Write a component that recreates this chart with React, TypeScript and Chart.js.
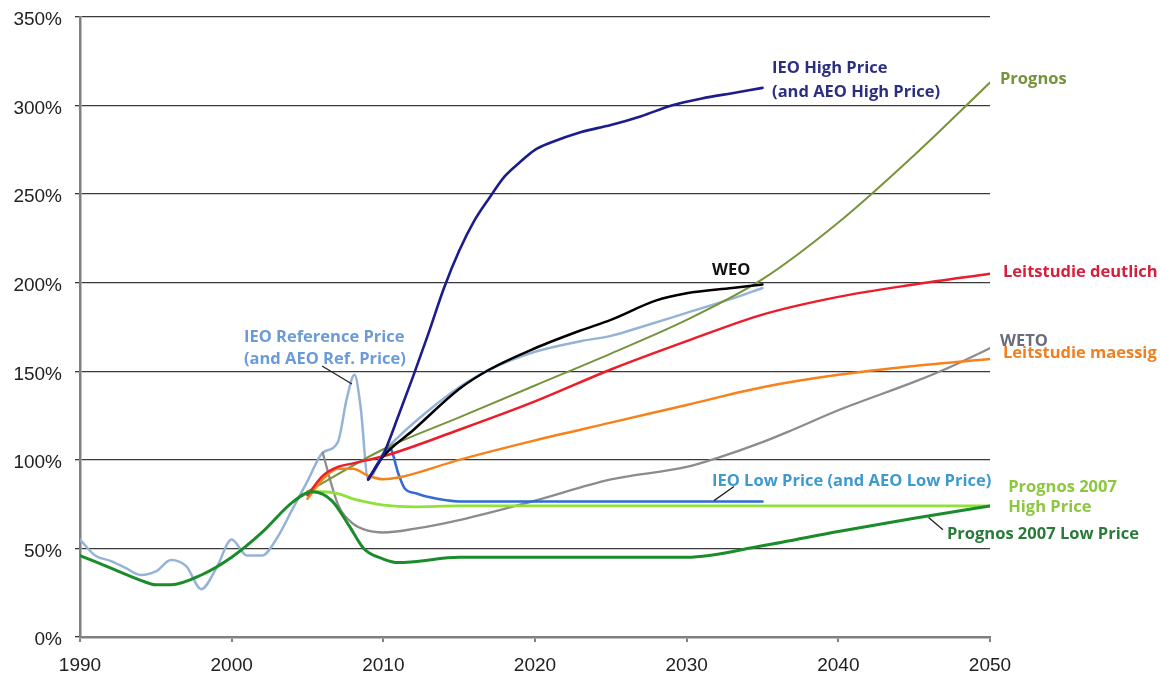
import React, { useEffect, useRef } from "react";
import { Chart, registerables } from "chart.js";
Chart.register(...registerables);

// ---- axes ----
const xMin = 1990;
const xMax = 2050;
const xStep = 10;
const yMin = 0;
const yMax = 350;
const yStep = 50;

// ---- series (year, percent) ----
const ieoRefYears = [1990, 1991, 1992, 1993, 1994, 1995, 1996, 1997, 1998, 1999, 2000, 2001, 2002, 2003, 2004, 2005, 2006, 2007, 2007.6, 2008.1, 2008.5, 2009, 2010, 2011, 2013, 2015, 2017, 2020, 2023, 2025, 2027, 2030, 2033, 2035];
const ieoRefValues = [55, 46, 43, 39, 35, 37, 43.5, 40, 27, 39, 55, 46, 46, 56, 72, 88, 104, 110, 135, 148, 130, 89, 104, 113, 128, 141, 151, 161, 167, 170, 175, 183, 191, 197];

const ieoHighYears = [2009, 2010, 2011, 2012, 2013, 2014, 2015, 2016, 2017, 2018, 2019, 2020, 2021, 2023, 2025, 2027, 2029, 2031, 2033, 2035];
const ieoHighValues = [89, 103, 125, 148, 172, 197, 218, 235, 248, 260, 268, 275, 279, 285, 289, 294, 300, 304, 307, 310];

const weoYears = [2009, 2010, 2012, 2015, 2017, 2020, 2023, 2025, 2028, 2030, 2033, 2035];
const weoValues = [89, 102, 117, 140, 151, 163, 173, 179, 190, 194, 197, 199];

const prognosYears = [2005, 2010, 2015, 2020, 2025, 2030, 2035, 2040, 2045, 2050];
const prognosValues = [82, 106, 124, 142, 160, 179, 202, 234, 272, 313];

const leitDeutlichYears = [2005, 2006, 2007, 2008, 2009, 2010, 2015, 2020, 2025, 2030, 2035, 2040, 2045, 2050];
const leitDeutlichValues = [80, 91, 96, 98, 100, 102, 117, 133, 151, 167, 182, 192, 199, 205];

const leitMaessigYears = [2005, 2006, 2007, 2008, 2009, 2010, 2011, 2015, 2020, 2025, 2030, 2035, 2040, 2045, 2050];
const leitMaessigValues = [78, 89, 95, 95, 91, 89, 90, 100, 111, 121, 131, 141, 148, 153, 157];

const wetoYears = [2006, 2007, 2008, 2009, 2010, 2012, 2015, 2020, 2025, 2030, 2032, 2035, 2037, 2040, 2045, 2047, 2050];
const wetoValues = [104, 75, 64, 60, 59, 61, 66, 77, 89, 96, 101, 110, 117, 128, 144, 151, 163];

const ieoLowYears = [2009, 2010, 2010.4, 2011, 2011.4, 2012.2, 2013, 2015, 2020, 2025, 2030, 2035];
const ieoLowValues = [89, 103, 107, 92, 84, 81, 79, 76.5, 76.5, 76.5, 76.5, 76.5];

const prognos07HighYears = [2005, 2006, 2007, 2008, 2009, 2010, 2012, 2015, 2030, 2050];
const prognos07HighValues = [82, 82, 81, 78, 76, 74.5, 73.5, 74, 74, 74];

const prognos07LowYears = [1990, 1992, 1994, 1995, 1996, 1998, 2000, 2002, 2004, 2005.3, 2006.6, 2007.8, 2008.7, 2010, 2011, 2012, 2015, 2030, 2035, 2040, 2045, 2050];
const prognos07LowValues = [46, 39, 32, 29.5, 29.5, 35, 45, 59, 76, 82, 77, 62, 50, 44, 42, 42.5, 45, 45, 51.5, 59.5, 67, 74];

// ---- annotation texts ----
const labelTexts = [
  "IEO High Price",
  "(and AEO High Price)",
  "Prognos",
  "WEO",
  "Leitstudie deutlich",
  "WETO",
  "Leitstudie maessig",
  "IEO Reference Price",
  "(and AEO Ref. Price)",
  "IEO Low Price (and AEO Low Price)",
  "Prognos 2007",
  "High Price",
  "Prognos 2007 Low Price",
];

function pts(xs: number[], ys: number[]) {
  return xs.map((x, i) => ({ x, y: ys[i] }));
}

export default function App() {
  const ref = useRef<HTMLCanvasElement | null>(null);

  useEffect(() => {
    document.body.style.margin = "0";
    const canvas = ref.current;
    if (!canvas) return;

    // label anchors (x in years, y in percent), styles
    const labelStyle = [
      { x: 2035.63, y: 320.8, color: "#2b2f80" },
      { x: 2035.63, y: 307.7, color: "#2b2f80" },
      { x: 2050.66, y: 315, color: "#76923c" },
      { x: 2031.67, y: 207, color: "#111111" },
      { x: 2050.86, y: 205.8, color: "#d81e3a" },
      { x: 2050.66, y: 167.1, color: "#6b6b7b" },
      { x: 2050.86, y: 160.3, color: "#f07f1f" },
      { x: 2000.81, y: 169.4, color: "#6a9bd8" },
      { x: 2000.81, y: 157, color: "#6a9bd8" },
      { x: 2031.67, y: 88, color: "#3d9ad1" },
      { x: 2051.2, y: 84.7, color: "#8dc63f" },
      { x: 2051.2, y: 73.4, color: "#8dc63f" },
      { x: 2047.16, y: 58, color: "#2a7a3a" },
    ];
    const leaders = [
      [2005.96, 153, 2007.93, 142.8],
      [2033.12, 85, 2031.8, 77],
      [2045.95, 67.5, 2046.9, 60.5],
    ];

    const labelPlugin = {
      id: "annot",
      afterDatasetsDraw(chart: any) {
        const { ctx, scales } = chart;
        const xs = scales.x;
        const ys = scales.y;
        ctx.save();
        ctx.strokeStyle = "#222";
        ctx.lineWidth = 1.3;
        for (const l of leaders) {
          ctx.beginPath();
          ctx.moveTo(xs.getPixelForValue(l[0]), ys.getPixelForValue(l[1]));
          ctx.lineTo(xs.getPixelForValue(l[2]), ys.getPixelForValue(l[3]));
          ctx.stroke();
        }
        ctx.font = "bold 16.5px 'Open Sans'";
        ctx.textBaseline = "middle";
        ctx.textAlign = "left";
        labelTexts.forEach((t, i) => {
          const s = labelStyle[i];
          ctx.fillStyle = s.color;
          ctx.fillText(t, xs.getPixelForValue(s.x), ys.getPixelForValue(s.y));
        });
        ctx.restore();
      },
    };

    const line = (data: any, color: string, width: number, order: number) => ({
      data,
      borderColor: color,
      backgroundColor: color,
      borderWidth: width,
      pointRadius: 0,
      fill: false,
      cubicInterpolationMode: "monotone" as const,
      borderJoinStyle: "round" as const,
      borderCapStyle: "round" as const,
      order,
    });

    const chart = new Chart(canvas, {
      type: "line",
      data: {
        datasets: [
          line(pts(ieoRefYears, ieoRefValues), "#95b3d7", 2.5, 10),
          line(pts(wetoYears, wetoValues), "#8c8c8c", 2.3, 9),
          line(pts(prognos07HighYears, prognos07HighValues), "#92e03a", 2.8, 8),
          line(pts(ieoLowYears, ieoLowValues), "#3569d6", 2.6, 7),
          line(pts(prognosYears, prognosValues), "#77933c", 2, 6),
          line(pts(leitMaessigYears, leitMaessigValues), "#f7821b", 2.5, 5),
          line(pts(leitDeutlichYears, leitDeutlichValues), "#ec1c2a", 2.5, 4),
          line(pts(prognos07LowYears, prognos07LowValues), "#1a8c2a", 3, 3),
          line(pts(weoYears, weoValues), "#000000", 2.5, 2),
          line(pts(ieoHighYears, ieoHighValues), "#1c1c8c", 2.6, 1),
        ],
      },
      options: {
        animation: false,
        responsive: true,
        maintainAspectRatio: false,
        layout: { padding: { left: 0, right: 170, top: 17, bottom: 0 } },
        plugins: { legend: { display: false }, tooltip: { enabled: false } },
        scales: {
          x: {
            type: "linear",
            min: xMin,
            max: xMax,
            afterFit: (s: any) => {
              s.height = 40;
            },
            ticks: {
              stepSize: xStep,
              padding: 12,
              color: "#222",
              font: { family: "Liberation Sans", size: 19 },
              callback: (v: any) => String(v),
              maxRotation: 0,
            },
            grid: {
              drawOnChartArea: false,
              drawTicks: true,
              tickLength: 5,
              color: "#808080",
              lineWidth: 2,
            },
            border: { color: "#808080", width: 2.5 },
          },
          y: {
            min: yMin,
            max: yMax,
            afterFit: (s: any) => {
              s.width = 80;
            },
            ticks: {
              stepSize: yStep,
              padding: 13,
              labelOffset: 3,
              color: "#222",
              font: { family: "Liberation Sans", size: 19, lineHeight: 0.2 },
              callback: (v: any) => v + "%",
            },
            grid: {
              color: "#3a3a3a",
              lineWidth: 1.3,
              tickLength: 5,
              drawTicks: true,
            },
            border: { color: "#808080", width: 2.5 },
          },
        },
      },
      plugins: [labelPlugin],
    });
    return () => chart.destroy();
  }, []);

  return (
    <div style={{ position: "relative", width: 1160, height: 677, background: "#fff" }}>
      <canvas ref={ref} />
    </div>
  );
}
